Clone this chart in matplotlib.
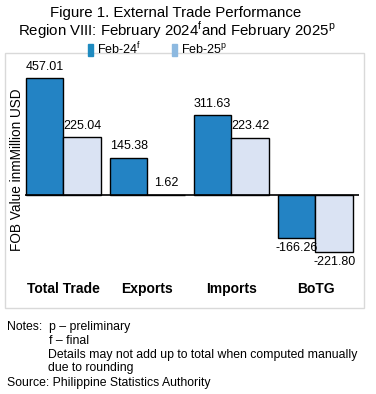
import matplotlib
matplotlib.use('Agg')
import numpy as np
import matplotlib.pyplot as plt
from matplotlib.patches import Patch, Rectangle

plt.rcParams['font.family'] = ['Liberation Sans', 'DejaVu Sans']
plt.rcParams['mathtext.fontset'] = 'custom'
plt.rcParams['mathtext.rm'] = 'Liberation Sans'

categories = ['Total Trade', 'Exports', 'Imports', 'BoTG']
feb24 = [457.01, 145.38, 311.63, -166.26]
feb25 = [225.04, 1.62, 223.42, -221.80]

W, H = 376, 394
fig = plt.figure(figsize=(W / 100, H / 100), dpi=100)

def px(x0, y0, x1, y1):
    # pixel box (top-left origin) -> figure fraction rect
    return [x0 / W, 1 - y1 / H, (x1 - x0) / W, (y1 - y0) / H]

# chart frame
fig.patches.append(Rectangle((5 / W, 1 - 308 / H), 359 / W, 255 / H,
                             transform=fig.transFigure, fill=False,
                             edgecolor='#d9d9d9', linewidth=1))

ax = fig.add_axes(px(25, 65, 359, 275))
x = np.arange(len(categories))
w = 0.45
b1 = ax.bar(x - w / 2, feb24, w, color='#2383C4', edgecolor='black', linewidth=1)
b2 = ax.bar(x + w / 2, feb25, w, color='#DAE3F3', edgecolor='black', linewidth=1)
ax.axhline(0, color='black', linewidth=1.2)
ax.set_xlim(-0.458, 3.518)
ax.set_ylim(-312, 508)

for bars, vals in [(b1, feb24), (b2, feb25)]:
    for r, v in zip(bars, vals):
        cx = r.get_x() + r.get_width() / 2
        if v >= 0:
            ax.annotate(f'{v:.2f}', (cx, v), xytext=(0, 4), textcoords='offset points',
                        ha='center', va='bottom', fontsize=9)
        else:
            ax.annotate(f'{v:.2f}', (cx, v), xytext=(0, -3), textcoords='offset points',
                        ha='center', va='top', fontsize=9)

for s in ax.spines.values():
    s.set_visible(False)
ax.set_yticks([])
ax.set_xticks(x)
ax.set_xticklabels(categories, fontsize=10, fontweight='bold')
ax.tick_params(axis='x', length=0, pad=5)
ax.set_ylabel('FOB Value inmMillion USD', fontsize=9.8, labelpad=1)
ax.patch.set_alpha(0)

fig.text(176 / W, 1 - 13 / H, 'Figure 1. External Trade Performance',
         ha='center', va='center', fontsize=10.8)
fig.text(177 / W, 1 - 30 / H,
         'Region VIII: February 2024$^{\\mathrm{f}}$and February 2025$^{\\mathrm{p}}$',
         ha='center', va='center', fontsize=10.8)

handles = [Patch(color='#1F8BC0'), Patch(color='#8DB9E0')]
fig.legend(handles, ['Feb-24$^{\\mathrm{f}}$', 'Feb-25$^{\\mathrm{p}}$'],
           loc='center left', bbox_to_anchor=(88 / W, 1 - 49 / H), ncol=2,
           frameon=False, fontsize=9, handlelength=0.4, handleheight=1.0,
           handletextpad=0.3, columnspacing=2.5, borderpad=0, borderaxespad=0)

nfs = 8.8
fig.text(7 / W, 1 - 327 / H, 'Notes:  p \u2013 preliminary', va='center', fontsize=nfs)
fig.text(49 / W, 1 - 341 / H, 'f \u2013 final', va='center', fontsize=nfs)
fig.text(48 / W, 1 - 355 / H, 'Details may not add up to total when computed manually',
         va='center', fontsize=nfs)
fig.text(48 / W, 1 - 368 / H, 'due to rounding', va='center', fontsize=nfs)
fig.text(7 / W, 1 - 383 / H, 'Source: Philippine Statistics Authority', va='center', fontsize=nfs)

fig.savefig('out.png', dpi=100, facecolor='white')
